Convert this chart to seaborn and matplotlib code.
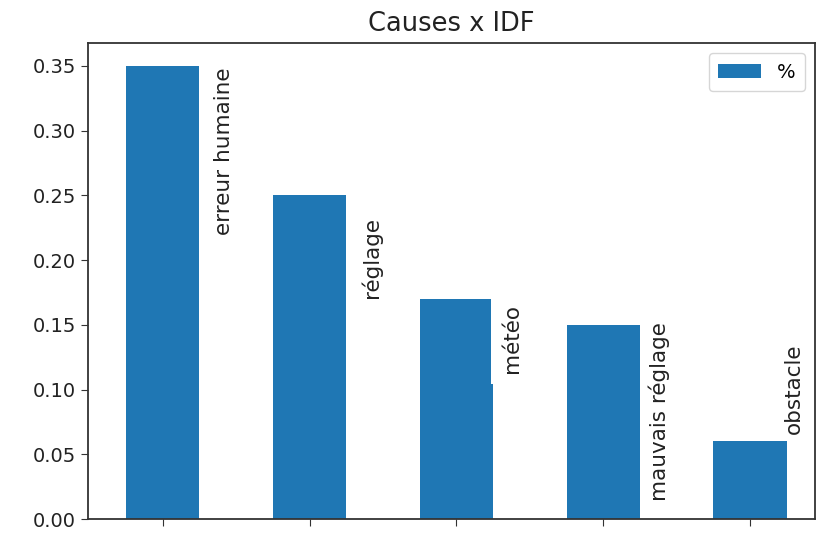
import pandas as pd
import seaborn as sns
import matplotlib.pyplot as plt

causes = ["erreur humaine", "réglage", "météo", "mauvais réglage", "obstacle"]
share = [0.35, 0.25, 0.17, 0.15, 0.06]

# where the rotated labels sit (x offset from bar centre, top of text)
label_dx = [0.35, 0.35, 0.31, 0.31, 0.23]
label_top = [0.349, 0.2335, 0.166, 0.152, 0.136]

df = pd.DataFrame({"cause": causes, "%": share})

fig = plt.figure(figsize=(8.28, 5.33), dpi=100)
ax = fig.add_axes([0.106, 0.026, 0.878, 0.893])

sns.barplot(data=df, x="cause", y="%", ax=ax, color="#1f77b4",
            saturation=1, width=0.5, label="%")

for i, name in enumerate(causes):
    # the météo label box bites into its bar in the original
    pad = 8 if name == "météo" else 2
    ax.text(i + label_dx[i], label_top[i], name, rotation=90,
            ha="left", va="top", fontsize=15.5, color="#222222",
            bbox=dict(facecolor="white", edgecolor="none", pad=pad))

ax.set_xlim(-0.51, 4.44)
ax.set_ylim(0, 0.3675)
ax.set_xticklabels([])
ax.set_xlabel("")
ax.set_ylabel("")
ax.tick_params(axis="both", labelsize=14, length=5, color="#333333", labelcolor="#222222")
ax.set_title("Causes x IDF", fontsize=18.5, pad=9, color="#222222")
for s in ax.spines.values():
    s.set_color("#333333")
    s.set_linewidth(1.3)

ax.legend(loc="upper right", fontsize=14, handlelength=2.2, borderpad=0.5)

plt.savefig("out.png", dpi=100)
